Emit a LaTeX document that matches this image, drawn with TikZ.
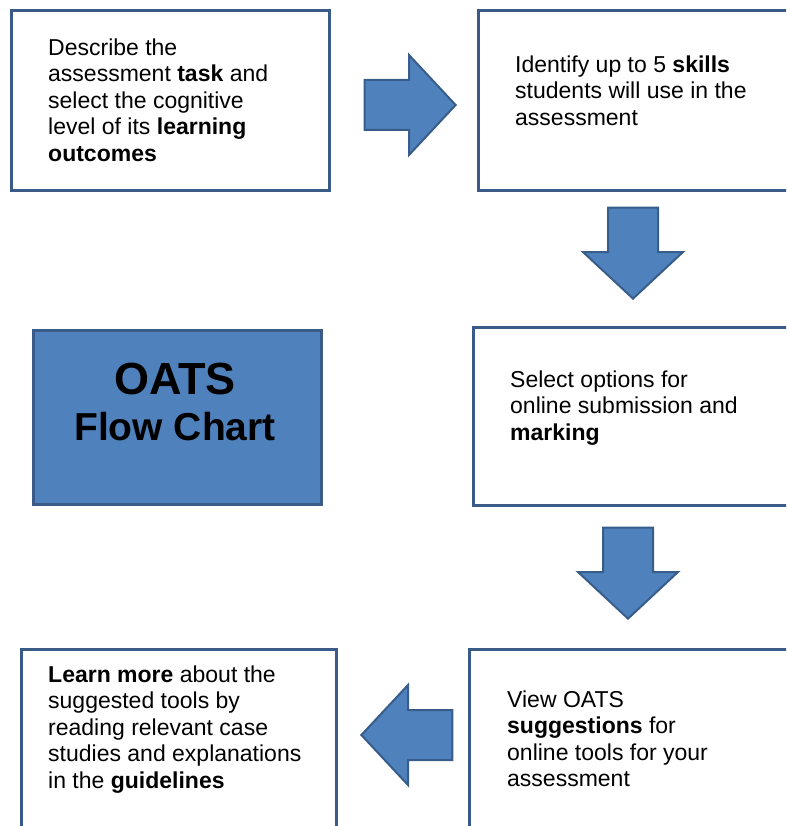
\documentclass[tikz,border=0pt]{standalone}
\usepackage{fontspec}
\setmainfont{Liberation Sans}
\usetikzlibrary{shapes.arrows}

\definecolor{boxline}{HTML}{3A5A88}
\definecolor{oatsblue}{HTML}{4F81BD}
\definecolor{arrowline}{HTML}{385D8A}

\tikzset{
    stepbox/.style={draw=boxline, line width=3pt, fill=white, inner sep=0pt, outer sep=0pt},
    steptext/.style={anchor=north west, inner sep=0pt, align=left, font=\fontsize{23}{26.5}\selectfont},
    titletext/.style={anchor=base, inner sep=0pt, font=\bfseries},
    blockarrow/.style={single arrow, draw=arrowline, fill=oatsblue, line width=2pt,
        inner xsep=0pt, inner ysep=24pt, single arrow head extend=25pt,
        single arrow tip angle=94, minimum height=91pt, anchor=tip}
}

\begin{document}
\begin{tikzpicture}[x=1pt,y=-1pt]
    \path[use as bounding box, clip] (0,0) rectangle (786,826);

    % Step boxes
    \node[stepbox, minimum width=318pt, minimum height=180pt] (describe) at (170,101) {};
    \node[stepbox, minimum width=322pt, minimum height=180pt] (skills) at (639,101) {};
    \node[stepbox, minimum width=327pt, minimum height=178pt] (options) at (636.5,416) {};
    \node[stepbox, minimum width=331pt, minimum height=191pt] (suggest) at (634.5,744.5) {};
    \node[stepbox, minimum width=315pt, minimum height=191pt] (learn) at (178.5,744.5) {};

    % Title box
    \node[stepbox, fill=oatsblue, minimum width=288pt, minimum height=174pt] (oats) at (177,417) {};
    \node[titletext, font=\bfseries\fontsize{45}{54}\selectfont] (oats-name)
        at ([xshift=-2pt, yshift=23pt]oats.center) {OATS};
    \node[titletext, font=\bfseries\fontsize{39}{47}\selectfont] (oats-sub)
        at ([xshift=-2pt, yshift=-23pt]oats.center) {Flow Chart};

    % Texts of the steps
    \node[steptext] (describe-text) at ([xshift=37pt, yshift=-27.5pt]describe.north west)
        {Describe the\\assessment \textbf{task} and\\select the cognitive\\level of its \textbf{learning}\\\textbf{outcomes}};
    \node[steptext] (skills-text) at ([xshift=37pt, yshift=-44.5pt]skills.north west)
        {Identify up to 5 \textbf{skills}\\students will use in the\\assessment};
    \node[steptext] (options-text) at ([xshift=37pt, yshift=-43.5pt]options.north west)
        {Select options for\\online submission and\\\textbf{marking}};
    \node[steptext] (suggest-text) at ([xshift=38pt, yshift=-41.5pt]suggest.north west)
        {View OATS\\\textbf{suggestions} for\\online tools for your\\assessment};
    \node[steptext] (learn-text) at ([xshift=27pt, yshift=-16.5pt]learn.north west)
        {\textbf{Learn more} about the\\suggested tools by\\reading relevant case\\studies and explanations\\in the \textbf{guidelines}};

    % Block arrows between the steps
    \node[blockarrow] (arrow-skills) at (457,105) {};
    \node[blockarrow, rotate=-90] (arrow-options) at (633,300) {};
    \node[blockarrow, rotate=-90] (arrow-suggest) at (628,620) {};
    \node[blockarrow, rotate=180] (arrow-learn) at (360,735) {};
\end{tikzpicture}
\end{document}
